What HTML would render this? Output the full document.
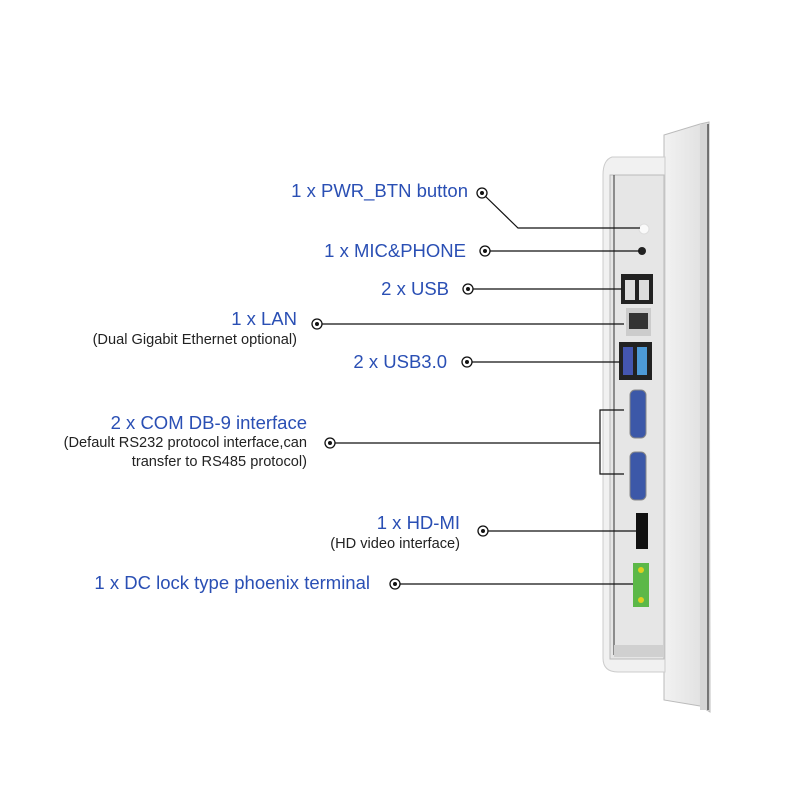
<!DOCTYPE html>
<html><head><style>
body{margin:0;background:#fff;}
.t{position:absolute;font-family:"Liberation Sans",sans-serif;color:#2a4fb4;font-size:18.5px;text-align:right;white-space:nowrap;line-height:1}
.s{position:absolute;font-family:"Liberation Sans",sans-serif;color:#222;font-size:14.6px;text-align:right;white-space:nowrap;line-height:19px}
</style></head><body>
<div style="position:relative;width:800px;height:800px;overflow:hidden">
<svg width="800" height="800" style="position:absolute;left:0;top:0">
<defs><linearGradient id="g" x1="0" x2="1"><stop offset="0" stop-color="#f2f2f2"/><stop offset="1" stop-color="#dedede"/></linearGradient></defs>
<path d="M664 135 L700 124 L709 122 L710 712 L700 706 L664 700 Z" fill="url(#g)" stroke="#bbb"/>
<rect x="700" y="124" width="8" height="586" fill="#d6d6d6"/>
<line x1="708" y1="124" x2="708" y2="710" stroke="#555" stroke-width="1.5"/>
<path d="M612 157 Q603 160 603 175 L603 658 Q603 672 618 672 L665 672 L665 157 Z" fill="#f1f1f1" stroke="#ccc"/>
<rect x="610" y="175" width="54" height="484" fill="#e6e6e6" stroke="#bbb"/>
<line x1="614" y1="175" x2="614" y2="655" stroke="#333" stroke-width="1"/>
<rect x="614" y="645" width="50" height="12" fill="#d0d0d0"/>
<circle cx="644" cy="229" r="5" fill="#fafafa" stroke="#ddd"/>
<circle cx="642" cy="251" r="4" fill="#222"/>
<rect x="621" y="274" width="32" height="30" fill="#222"/>
<rect x="625" y="280" width="10" height="20" fill="#ddd"/><rect x="639" y="280" width="10" height="20" fill="#ddd"/>
<rect x="626" y="308" width="25" height="28" fill="#ccc"/><rect x="629" y="313" width="19" height="16" fill="#333"/>
<rect x="619" y="342" width="33" height="38" fill="#222"/>
<rect x="623" y="347" width="10" height="28" fill="#4456b0"/><rect x="637" y="347" width="10" height="28" fill="#4d9ad6"/>
<rect x="630" y="390" width="16" height="48" rx="5" fill="#3c58a8" stroke="#888"/>
<rect x="630" y="452" width="16" height="48" rx="5" fill="#3c58a8" stroke="#888"/>
<rect x="636" y="513" width="12" height="36" fill="#111"/>
<rect x="633" y="563" width="16" height="44" fill="#5cb848"/>
<circle cx="641" cy="570" r="3" fill="#ddd020"/><circle cx="641" cy="600" r="3" fill="#ddd020"/>
<g stroke="#111" stroke-width="1.2" fill="none">
<polyline points="482,193 518,228 640,228"/>
<line x1="485" y1="251" x2="640" y2="251"/>
<line x1="468" y1="289" x2="622" y2="289"/>
<line x1="317" y1="324" x2="624" y2="324"/>
<line x1="467" y1="362" x2="620" y2="362"/>
<line x1="330" y1="443" x2="600" y2="443"/>
<polyline points="624,410 600,410 600,474 624,474"/>
<line x1="483" y1="531" x2="636" y2="531"/>
<line x1="395" y1="584" x2="633" y2="584"/>
</g>
<g fill="#fff" stroke="#111" stroke-width="1.3">
<circle cx="482" cy="193" r="5"/><circle cx="485" cy="251" r="5"/><circle cx="468" cy="289" r="5"/>
<circle cx="317" cy="324" r="5"/><circle cx="467" cy="362" r="5"/><circle cx="330" cy="443" r="5"/>
<circle cx="483" cy="531" r="5"/><circle cx="395" cy="584" r="5"/>
</g>
<g fill="#111">
<circle cx="482" cy="193" r="2"/><circle cx="485" cy="251" r="2"/><circle cx="468" cy="289" r="2"/>
<circle cx="317" cy="324" r="2"/><circle cx="467" cy="362" r="2"/><circle cx="330" cy="443" r="2"/>
<circle cx="483" cy="531" r="2"/><circle cx="395" cy="584" r="2"/>
</g>
</svg>
<div class="t" style="right:332px;top:182px">1 x PWR_BTN button</div>
<div class="t" style="right:334px;top:242px">1 x MIC&amp;PHONE</div>
<div class="t" style="right:351px;top:280px">2 x USB</div>
<div class="t" style="right:503px;top:310px">1 x LAN</div>
<div class="s" style="right:503px;top:331px">(Dual Gigabit Ethernet optional)</div>
<div class="t" style="right:353px;top:353px">2 x USB3.0</div>
<div class="t" style="right:493px;top:414px">2 x COM DB-9 interface</div>
<div class="s" style="right:493px;top:434px">(Default RS232 protocol interface,can<br>transfer to RS485 protocol)</div>
<div class="t" style="right:340px;top:514px">1 x HD-MI</div>
<div class="s" style="right:340px;top:535px">(HD video interface)</div>
<div class="t" style="right:430px;top:574px">1 x DC lock type phoenix terminal</div>
</div>
</body></html>
